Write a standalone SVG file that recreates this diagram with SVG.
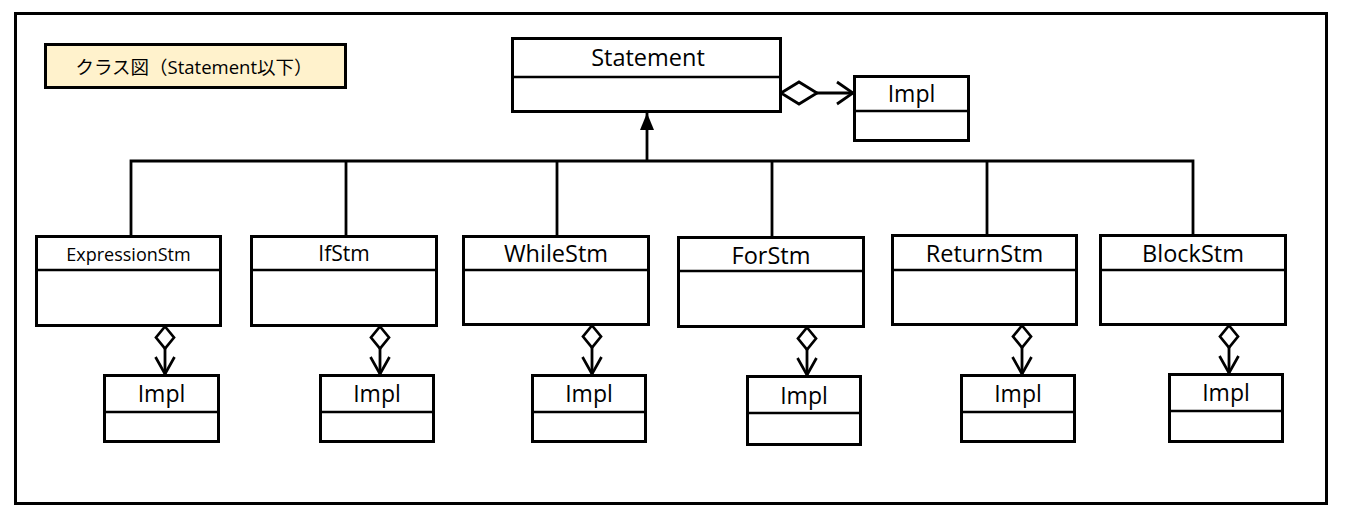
<svg xmlns="http://www.w3.org/2000/svg" width="1349" height="530" viewBox="0 0 1349 530">
<style>
  .box { fill: #ffffff; stroke: #000000; stroke-width: 3; }
  .div { stroke: #000000; stroke-width: 2.5; }
  .conn { fill: none; stroke: #000000; stroke-width: 2.8; stroke-linejoin: miter; }
  .lbl { font-family: "Open Sans", "Noto Sans", sans-serif; fill: #000000; text-anchor: middle; }
  .title { font-family: "Open Sans", "Noto Sans CJK JP", sans-serif; fill: #000000; text-anchor: middle; font-size: 18.5px; }
</style>
<defs>
  <marker id="diamondV" viewBox="0 0 26 22" refX="1" refY="11" markerWidth="26" markerHeight="22" markerUnits="userSpaceOnUse" orient="auto">
    <path d="M1.5,11 L12.5,2 L23.5,11 L12.5,20 Z" fill="#ffffff" stroke="#000000" stroke-width="2.7"/>
  </marker>
  <marker id="diamondH" viewBox="0 0 40 26" refX="1.5" refY="13" markerWidth="40" markerHeight="26" markerUnits="userSpaceOnUse" orient="auto">
    <path d="M1.5,13 L19.5,2 L37.5,13 L19.5,24 Z" fill="#ffffff" stroke="#000000" stroke-width="2.8"/>
  </marker>
  <marker id="openArrow" viewBox="0 0 20 24" refX="18" refY="12" markerWidth="20" markerHeight="24" markerUnits="userSpaceOnUse" orient="auto">
    <path d="M1,2.5 L18,12 L1,21.5" fill="none" stroke="#000000" stroke-width="2.7"/>
  </marker>
  <marker id="openArrowBig" viewBox="0 0 20 28" refX="18" refY="14" markerWidth="20" markerHeight="28" markerUnits="userSpaceOnUse" orient="auto">
    <path d="M2,3 L18,14 L2,25" fill="none" stroke="#000000" stroke-width="2.8"/>
  </marker>
  <marker id="triangle" viewBox="0 0 18 16" refX="17" refY="8" markerWidth="18" markerHeight="16" markerUnits="userSpaceOnUse" orient="auto">
    <path d="M0,1 L17,8 L0,15 Z" fill="#000000"/>
  </marker>
</defs>

<rect id="frame" x="15.5" y="13.5" width="1311" height="490" fill="#ffffff" stroke="#000000" stroke-width="3"/>

<g id="title">
  <rect x="45.5" y="44.5" width="300" height="43" fill="#fff2cc" stroke="#000000" stroke-width="3"/>
  <text class="title" x="194" y="74">クラス図（Statement以下）</text>
</g>

<g id="connectors">
  <path class="conn" d="M131,236 V161 H1193 V235"/>
  <path class="conn" d="M346,161 V236"/>
  <path class="conn" d="M557,161 V236"/>
  <path class="conn" d="M772,161 V237"/>
  <path class="conn" d="M987,161 V235"/>
  <path class="conn" d="M647,161 V113" marker-end="url(#triangle)"/>
  <path class="conn" d="M781,93 H853" marker-start="url(#diamondH)" marker-end="url(#openArrowBig)"/>
  <path class="conn" d="M165,326 V374" marker-start="url(#diamondV)" marker-end="url(#openArrow)"/>
  <path class="conn" d="M380,326 V374" marker-start="url(#diamondV)" marker-end="url(#openArrow)"/>
  <path class="conn" d="M592,325 V374" marker-start="url(#diamondV)" marker-end="url(#openArrow)"/>
  <path class="conn" d="M807,327 V375" marker-start="url(#diamondV)" marker-end="url(#openArrow)"/>
  <path class="conn" d="M1022,325 V374" marker-start="url(#diamondV)" marker-end="url(#openArrow)"/>
  <path class="conn" d="M1229,325 V373" marker-start="url(#diamondV)" marker-end="url(#openArrow)"/>
</g>

<g id="statement">
  <rect class="box" x="512.5" y="38.5" width="268" height="73"/>
  <line class="div" x1="512" y1="77" x2="781" y2="77"/>
  <text class="lbl" x="648" y="66" font-size="23.5">Statement</text>
</g>

<g id="impl-statement">
  <rect class="box" x="854.5" y="76.5" width="114" height="64"/>
  <line class="div" x1="854" y1="111" x2="969" y2="111"/>
  <text class="lbl" x="911.5" y="101.5" font-size="23">Impl</text>
</g>

<g id="expressionstm">
  <rect class="box" x="36.5" y="236.5" width="184" height="89"/>
  <line class="div" x1="36" y1="270" x2="221" y2="270"/>
  <text class="lbl" x="128.5" y="261" font-size="18">ExpressionStm</text>
</g>
<g id="impl-expressionstm">
  <rect class="box" x="104.5" y="375.5" width="114" height="66"/>
  <line class="div" x1="104" y1="412" x2="219" y2="412"/>
  <text class="lbl" x="161.5" y="401.5" font-size="23">Impl</text>
</g>

<g id="ifstm">
  <rect class="box" x="251.5" y="236.5" width="185" height="89"/>
  <line class="div" x1="251" y1="270" x2="437" y2="270"/>
  <text class="lbl" x="344" y="261" font-size="21">IfStm</text>
</g>
<g id="impl-ifstm">
  <rect class="box" x="320.5" y="375.5" width="113" height="66"/>
  <line class="div" x1="320" y1="412" x2="434" y2="412"/>
  <text class="lbl" x="377" y="401.5" font-size="23">Impl</text>
</g>

<g id="whilestm">
  <rect class="box" x="463.5" y="236.5" width="185" height="88"/>
  <line class="div" x1="463" y1="270" x2="649" y2="270"/>
  <text class="lbl" x="556" y="262" font-size="23.5">WhileStm</text>
</g>
<g id="impl-whilestm">
  <rect class="box" x="532.5" y="375.5" width="113" height="66"/>
  <line class="div" x1="532" y1="412" x2="646" y2="412"/>
  <text class="lbl" x="589" y="401.5" font-size="23">Impl</text>
</g>

<g id="forstm">
  <rect class="box" x="678.5" y="237.5" width="185" height="89"/>
  <line class="div" x1="678" y1="271" x2="864" y2="271"/>
  <text class="lbl" x="771" y="263.5" font-size="23.5">ForStm</text>
</g>
<g id="impl-forstm">
  <rect class="box" x="747.5" y="376.5" width="113" height="68"/>
  <line class="div" x1="747" y1="413" x2="861" y2="413"/>
  <text class="lbl" x="804" y="404" font-size="23">Impl</text>
</g>

<g id="returnstm">
  <rect class="box" x="892.5" y="235.5" width="184" height="89"/>
  <line class="div" x1="892" y1="270" x2="1077" y2="270"/>
  <text class="lbl" x="984.5" y="262" font-size="23.5">ReturnStm</text>
</g>
<g id="impl-returnstm">
  <rect class="box" x="961.5" y="375.5" width="113" height="66"/>
  <line class="div" x1="961" y1="412" x2="1075" y2="412"/>
  <text class="lbl" x="1018" y="401.5" font-size="23">Impl</text>
</g>

<g id="blockstm">
  <rect class="box" x="1100.5" y="235.5" width="185" height="89"/>
  <line class="div" x1="1100" y1="270" x2="1286" y2="270"/>
  <text class="lbl" x="1193" y="262" font-size="23.5">BlockStm</text>
</g>
<g id="impl-blockstm">
  <rect class="box" x="1169.5" y="374.5" width="113" height="67"/>
  <line class="div" x1="1169" y1="411" x2="1283" y2="411"/>
  <text class="lbl" x="1226" y="400.5" font-size="23">Impl</text>
</g>
</svg>
